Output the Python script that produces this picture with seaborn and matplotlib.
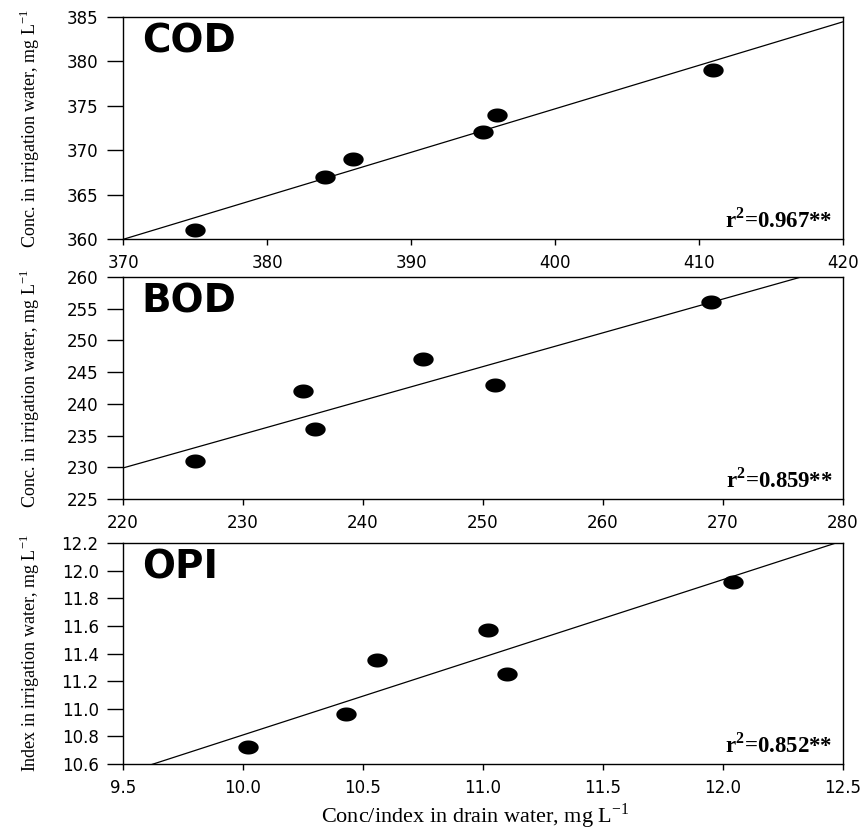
import numpy as np
import matplotlib
matplotlib.use('Agg')
import matplotlib.pyplot as plt
from matplotlib.path import Path
from matplotlib.ticker import FormatStrFormatter
import seaborn as sns

sns.set_style('ticks')
plt.rcParams['font.family'] = ['DejaVu Sans']
plt.rcParams['text.color'] = 'black'
plt.rcParams['axes.labelcolor'] = 'black'
plt.rcParams['mathtext.fontset'] = 'custom'
plt.rcParams['mathtext.rm'] = 'Liberation Serif'
plt.rcParams['mathtext.bf'] = 'Liberation Serif:bold'

# data (drain water vs irrigation water)
cod_drain = [375, 384, 386, 395, 396, 411]
cod_irr = [361, 367, 369, 372, 374, 379]
bod_drain = [226, 235, 236, 245, 251, 269]
bod_irr = [231, 242, 236, 247, 243, 256]
opi_drain = [10.02, 10.43, 10.56, 11.02, 11.10, 12.04]
opi_irr = [10.72, 10.96, 11.35, 11.57, 11.25, 11.92]

names = ['COD', 'BOD', 'OPI']
r2_values = ['0.967', '0.859', '0.852']
ylabels = ['Conc. in irrigation water, mg L$^{\\mathrm{-1}}$',
           'Conc. in irrigation water, mg L$^{\\mathrm{-1}}$',
           'Index in irrigation water, mg L$^{\\mathrm{-1}}$']
xticks = [[370, 380, 390, 400, 410, 420],
          [220, 230, 240, 250, 260, 270, 280],
          [9.5, 10.0, 10.5, 11.0, 11.5, 12.0, 12.5]]
yticks = [[360, 365, 370, 375, 380, 385],
          [225, 230, 235, 240, 245, 250, 255, 260],
          [10.6, 10.8, 11.0, 11.2, 11.4, 11.6, 11.8, 12.0, 12.2]]

xs = [cod_drain, bod_drain, opi_drain]
ys = [cod_irr, bod_irr, opi_irr]

# flat ellipse marker like the original
t = np.linspace(0, 2 * np.pi, 60)
ell = Path(np.column_stack([1.45 * np.cos(t), np.sin(t)]), closed=True)

fig = plt.figure(figsize=(8.64, 8.30))
boxes = [[0.1424, 0.7120, 0.8333, 0.2675],
         [0.1424, 0.3988, 0.8333, 0.2675],
         [0.1424, 0.0795, 0.8333, 0.2663]]

for i in range(3):
    ax = fig.add_axes(boxes[i])
    ax.set_xlim(xticks[i][0], xticks[i][-1])
    sns.regplot(x=xs[i], y=ys[i], ax=ax, ci=None, truncate=False, marker=ell,
                color='black',
                scatter_kws={'s': 215, 'linewidths': 0, 'alpha': 1, 'zorder': 3},
                line_kws={'linewidth': 0.9, 'color': 'black'})
    ax.set_xlim(xticks[i][0], xticks[i][-1])
    ax.set_ylim(yticks[i][0], yticks[i][-1])
    ax.set_xticks(xticks[i])
    ax.set_yticks(yticks[i])
    if i == 2:
        ax.xaxis.set_major_formatter(FormatStrFormatter('%.1f'))
        ax.yaxis.set_major_formatter(FormatStrFormatter('%.1f'))
    for s in ax.spines.values():
        s.set_visible(True)
        s.set_linewidth(1.0)
        s.set_color('black')
    ax.tick_params(axis='y', direction='out', length=11.5, width=1, pad=6,
                   labelsize=12, colors='black')
    ax.tick_params(axis='x', direction='out', length=4.5, width=1, pad=6,
                   labelsize=12, colors='black')
    ax.set_ylabel(ylabels[i], family='Liberation Serif', fontsize=13)
    ax.yaxis.set_label_coords(-0.1125, 0.5)
    ax.text(0.026, 0.838, names[i], transform=ax.transAxes, ha='left',
            va='baseline', fontsize=28, fontweight='heavy', family='DejaVu Sans',
            color='black')
    ax.text(0.986, 0.054, 'r$^{\\mathbf{2}}$=' + r2_values[i] + '**',
            transform=ax.transAxes, ha='right', va='baseline',
            family='Liberation Serif', fontweight='bold', fontsize=16.5)

ax.set_xlabel('Conc/index in drain water, mg L$^{\\mathrm{-1}}$',
              family='Liberation Serif', fontsize=16)
ax.xaxis.set_label_coords(0.489, -0.17)

fig.savefig('out.png', dpi=100)
